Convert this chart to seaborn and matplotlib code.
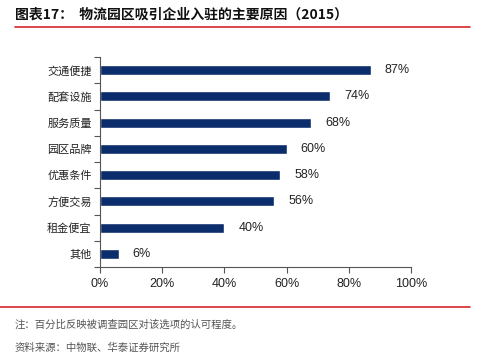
import matplotlib

matplotlib.use("Agg")
import matplotlib.pyplot as plt
import numpy as np
import pandas as pd
import seaborn as sns
from matplotlib.lines import Line2D

categories = ["交通便捷", "配套设施", "服务质量", "园区品牌", "优惠条件", "方便交易", "租金便宜", "其他"]
values = [87, 74, 68, 60, 58, 56, 40, 6]
x_ticks = [0, 20, 40, 60, 80, 100]
x_tick_labels = ["0%", "20%", "40%", "60%", "80%", "100%"]

TITLE = "图表17：  物流园区吸引企业入驻的主要原因（2015）"
NOTE = "注：百分比反映被调查园区对该选项的认可程度。"
SOURCE = "资料来源：中物联、华泰证券研究所"
BAR_COLOR = "#0c2d6b"
RED = "#d9262a"

sns.set_theme(style="white")
plt.rcParams["font.family"] = ["Noto Sans CJK SC", "DejaVu Sans"]

df = pd.DataFrame({"reason": categories, "pct": values})

fig = plt.figure(figsize=(4.94, 3.64), dpi=100)
ax = fig.add_axes([100 / 494, 1 - 267 / 364, 311 / 494, 210 / 364])

sns.barplot(data=df, x="pct", y="reason", color=BAR_COLOR, width=0.38,
            saturation=1, ax=ax)

for i, v in enumerate(values):
    ax.text(v + 4.5, i, f"{v}%", va="center", ha="left", fontsize=9,
            color="#222222", family=["Liberation Sans"])

ax.set_xlim(0, 100)
ax.set_ylim(len(categories) - 0.5, -0.5)
ax.set_xticks(x_ticks)
ax.set_xticklabels(x_tick_labels, fontsize=9, color="#222222", family=["Liberation Sans"])
# separator ticks between categories as major, labels on minor ticks
ax.set_yticks(np.arange(-0.5, len(categories)))
ax.set_yticklabels([])
ax.set_yticks(range(len(categories)), minor=True)
ax.set_yticklabels(categories, minor=True, fontsize=8, color="#222222")
ax.set_xlabel("")
ax.set_ylabel("")

for side in ["top", "right"]:
    ax.spines[side].set_visible(False)
for side in ["left", "bottom"]:
    ax.spines[side].set_color("#555555")
    ax.spines[side].set_linewidth(0.8)

ax.tick_params(axis="y", which="major", length=4, color="#555555", width=0.8, left=True)
ax.tick_params(axis="y", which="minor", length=0, pad=6, left=True)
ax.tick_params(axis="x", which="major", length=4, color="#555555", width=0.8, bottom=True, pad=4)
ax.grid(False)

fig.text(15 / 494, 1 - 15 / 364, TITLE, fontsize=10, fontweight="bold", va="center",
         ha="left", color="#111111")
fig.add_artist(Line2D([15 / 494, 470 / 494], [1 - 27 / 364, 1 - 27 / 364],
                      color=RED, linewidth=1.2, transform=fig.transFigure))
fig.add_artist(Line2D([0 / 494, 470 / 494], [1 - 307 / 364, 1 - 307 / 364],
                      color=RED, linewidth=1.2, transform=fig.transFigure))
fig.text(15 / 494, 1 - 325 / 364, NOTE, fontsize=7.5, va="center", ha="left", color="#555555")
fig.text(15 / 494, 1 - 348 / 364, SOURCE, fontsize=7.5, va="center", ha="left", color="#555555")

fig.savefig("out.png", dpi=100)
